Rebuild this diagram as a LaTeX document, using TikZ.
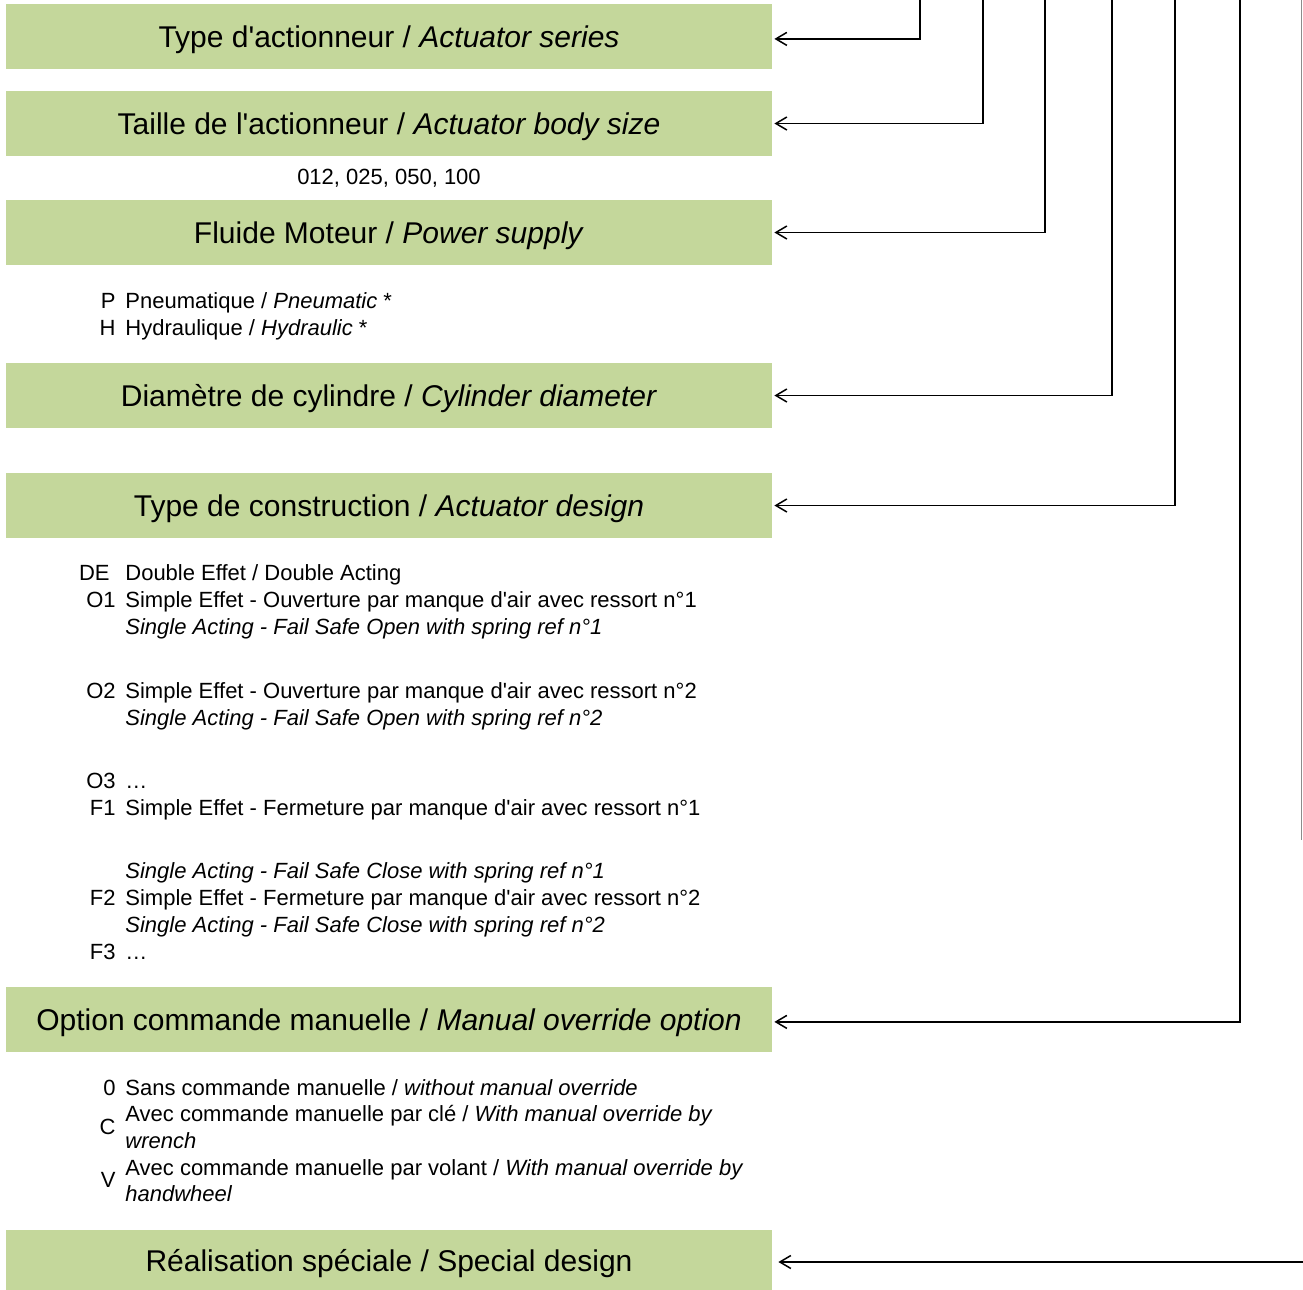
\documentclass[tikz,border=0pt]{standalone}
\usepackage{fontspec}
\setmainfont{Liberation Sans}[Ligatures=TeXOff]
\usetikzlibrary{arrows.meta}
\definecolor{bandgreen}{RGB}{196,215,155}

\begin{document}
\begin{tikzpicture}[x=0.5pt,y=-0.5pt,>={Straight Barb[length=5.5pt,width=6.5pt]},
        band/.style={fill=bandgreen,minimum width=383pt,minimum height=32.5pt,inner sep=0pt,text depth=0pt,font=\fontsize{15}{18}\selectfont},
        code/.style={anchor=base east,inner sep=0pt,font=\fontsize{11}{13}\selectfont},
        txt/.style={anchor=base west,inner sep=0pt,font=\fontsize{11}{13}\selectfont},
        link/.style={->,line width=0.75pt,shorten >=1pt}]

        \useasboundingbox (0,0) rectangle (1303,1290);

        % bands
        \node [band] (series)   at (389,36.5)  {Type d'actionneur / \textit{Actuator series}};
        \node [band] (size)     at (389,123.5) {Taille de l'actionneur / \textit{Actuator body size}};
        \node [band] (supply)   at (389,232.5) {Fluide Moteur / \textit{Power supply}};
        \node [band] (diameter) at (389,395.5) {Diamètre de cylindre / \textit{Cylinder diameter}};
        \node [band] (design)   at (389,505.5) {Type de construction / \textit{Actuator design}};
        \node [band] (override) at (389,1019.5) {Option commande manuelle / \textit{Manual override option}};
        \node [band,minimum height=30pt] (special) at (389,1260) {Réalisation spéciale / Special design};

        % size values
        \node [txt,anchor=base] (sizes) at (389,184) {012, 025, 050, 100};

        % power supply
        \node [code] (p)  at (116,308) {P};
        \node [txt]  (pt) at (125,308) {Pneumatique / \textit{Pneumatic} *};
        \node [code] (h)  at (116,335) {H};
        \node [txt]  (ht) at (125,335) {Hydraulique / \textit{Hydraulic} *};

        % design
        \node [code] (de)  at (110,580) {DE};
        \node [txt]  (det) at (125,580) {Double Effet / Double Acting};
        \node [code] (o1)  at (116,607) {O1};
        \node [txt]  (o1t) at (125,607) {Simple Effet - Ouverture par manque d'air avec ressort n°1};
        \node [txt]  (o1e) at (125,634) {\textit{Single Acting - Fail Safe Open with spring ref n°1}};
        \node [code] (o2)  at (116,698) {O2};
        \node [txt]  (o2t) at (125,698) {Simple Effet - Ouverture par manque d'air avec ressort n°2};
        \node [txt]  (o2e) at (125,725) {\textit{Single Acting - Fail Safe Open with spring ref n°2}};
        \node [code] (o3)  at (116,788) {O3};
        \node [txt]  (o3t) at (125,788) {…};
        \node [code] (f1)  at (116,815) {F1};
        \node [txt]  (f1t) at (125,815) {Simple Effet - Fermeture par manque d'air avec ressort n°1};
        \node [txt]  (f1e) at (125,878) {\textit{Single Acting - Fail Safe Close with spring ref n°1}};
        \node [code] (f2)  at (116,905) {F2};
        \node [txt]  (f2t) at (125,905) {Simple Effet - Fermeture par manque d'air avec ressort n°2};
        \node [txt]  (f2e) at (125,932) {\textit{Single Acting - Fail Safe Close with spring ref n°2}};
        \node [code] (f3)  at (116,959) {F3};
        \node [txt]  (f3t) at (125,959) {…};

        % manual override
        \node [code] (m0)  at (116,1095) {0};
        \node [txt]  (m0t) at (125,1095) {Sans commande manuelle / \textit{without manual override}};
        \node [code] (mc)  at (116,1134) {C};
        \node [txt]  (mct) at (125,1121) {Avec commande manuelle par clé / \textit{With manual override by}};
        \node [txt]  (mce) at (125,1148) {\textit{wrench}};
        \node [code] (mv)  at (116,1187) {V};
        \node [txt]  (mvt) at (125,1175) {Avec commande manuelle par volant / \textit{With manual override by}};
        \node [txt]  (mve) at (125,1201) {\textit{handwheel}};

        % connector ends
        \coordinate (k1) at (920,0);
        \coordinate (k2) at (983,0);
        \coordinate (k3) at (1045,0);
        \coordinate (k4) at (1112,0);
        \coordinate (k5) at (1175,0);
        \coordinate (k6) at (1240,0);
        \coordinate (k7) at (1303,1262);
        \coordinate (k8) at (1301.5,0);
        \coordinate (k9) at (1301.5,840);

        \draw [link] (k1) |- ([yshift=-1.2pt]series.east);
        \draw [link] (k2) |- (size.east);
        \draw [link] (k3) |- (supply.east);
        \draw [link] (k4) |- (diameter.east);
        \draw [link] (k5) |- (design.east);
        \draw [link] (k6) |- ([yshift=-1.2pt]override.east);
        \draw [link,shorten >=3pt] (k7) -- (special.east |- k7);
        \draw [black!45,line width=0.6pt] (k8) -- (k9);
\end{tikzpicture}
\end{document}
